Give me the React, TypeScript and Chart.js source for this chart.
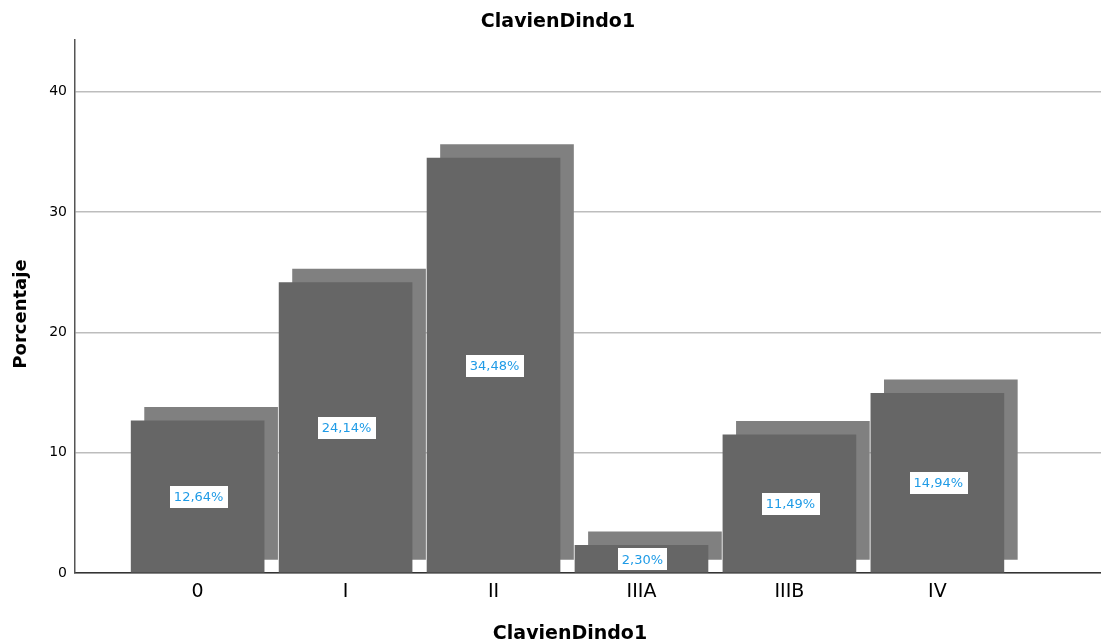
import React, { useEffect, useRef } from "react";
import { Chart, registerables } from "chart.js";

Chart.register(...registerables);

// Categories and their percentages
const categories = ["0", "I", "II", "IIIA", "IIIB", "IV"];
const percentages = [12.64, 24.14, 34.48, 2.3, 11.49, 14.94];
const yTicks = [0, 10, 20, 30, 40];

// Depth effect: back face shifted right and up, in axis units
const depthX = 0.091;
const depthY = 1.12;

const FONT = "'DejaVu Sans', Verdana, sans-serif";

const fmt = (v: number) => v.toFixed(2).replace(".", ",") + "%";

const overlayPlugin = {
  id: "overlay",
  afterDatasetsDraw(chart: any) {
    const { ctx, scales } = chart;
    const x = scales.x;
    const y = scales.y;
    ctx.save();
    ctx.font = `13px ${FONT}`;
    ctx.textAlign = "center";
    ctx.textBaseline = "middle";
    percentages.forEach((v, i) => {
      const px = x.getPixelForValue(i) + 1;
      const py = y.getPixelForValue(v / 2);
      const text = fmt(v);
      const w = ctx.measureText(text).width + 8;
      const h = 22;
      ctx.fillStyle = "#ffffff";
      ctx.fillRect(Math.round(px - w / 2), Math.round(py - h / 2), Math.round(w), h);
      ctx.fillStyle = "#1f9be6";
      ctx.fillText(text, px, py + 1);
    });
    ctx.restore();
  },
  afterDraw(chart: any) {
    const { ctx } = chart;
    ctx.save();
    ctx.fillStyle = "#000000";
    ctx.font = `bold 19px ${FONT}`;
    ctx.textAlign = "center";
    ctx.textBaseline = "middle";
    ctx.fillText("ClavienDindo1", 558, 22);
    ctx.fillText("ClavienDindo1", 570, 634);
    ctx.font = `bold 18px ${FONT}`;
    ctx.translate(21, 314);
    ctx.rotate(-Math.PI / 2);
    ctx.fillText("Porcentaje", 0, 0);
    ctx.restore();
  },
};

export default function App() {
  const ref = useRef<HTMLCanvasElement>(null);

  useEffect(() => {
    if (!ref.current) return;
    const chart = new Chart(ref.current, {
      type: "bar",
      data: {
        datasets: [
          {
            label: "depth",
            data: percentages.map((v, i) => ({ x: i + depthX, y: [depthY, v + depthY] })) as any,
            backgroundColor: "#808080",
            borderWidth: 0,
            barThickness: 133,
            grouped: false,
            order: 2,
          },
          {
            label: "Porcentaje",
            data: percentages.map((v, i) => ({ x: i, y: v })) as any,
            backgroundColor: "#666666",
            borderWidth: 0,
            barThickness: 133,
            grouped: false,
            order: 1,
          },
        ],
      },
      options: {
        responsive: false,
        animation: false,
        layout: { padding: { top: 40, right: 0, left: 0, bottom: 0 } },
        plugins: {
          legend: { display: false },
          title: { display: false },
          tooltip: { enabled: false },
        },
        scales: {
          x: {
            type: "linear",
            offset: false,
            min: -0.829,
            max: 6.106,
            afterBuildTicks: (s: any) => {
              s.ticks = categories.map((_, i) => ({ value: i }));
            },
            afterFit: (s: any) => {
              s.height = 70;
            },
            ticks: {
              callback: (v: any) => categories[v] ?? "",
              font: { family: FONT, size: 19 },
              color: "#000000",
              padding: 8,
              autoSkip: false,
              maxRotation: 0,
            },
            grid: { display: false, drawTicks: false },
            border: { display: true, color: "#333333", width: 1.5 },
          },
          y: {
            type: "linear",
            min: 0,
            max: 44.3,
            afterBuildTicks: (s: any) => {
              s.ticks = yTicks.map((v) => ({ value: v }));
            },
            afterFit: (s: any) => {
              s.width = 75;
            },
            ticks: {
              font: { family: FONT, size: 14 },
              color: "#000000",
              padding: 8,
            },
            grid: { color: "#bdbdbd", lineWidth: 1.5, drawTicks: false },
            border: { display: true, color: "#555555", width: 1.5 },
          },
        },
      },
      plugins: [overlayPlugin],
    });
    return () => chart.destroy();
  }, []);

  return (
    <canvas
      ref={ref}
      width={1101}
      height={643}
      style={{ position: "absolute", left: 0, top: 0, display: "block" }}
    />
  );
}
